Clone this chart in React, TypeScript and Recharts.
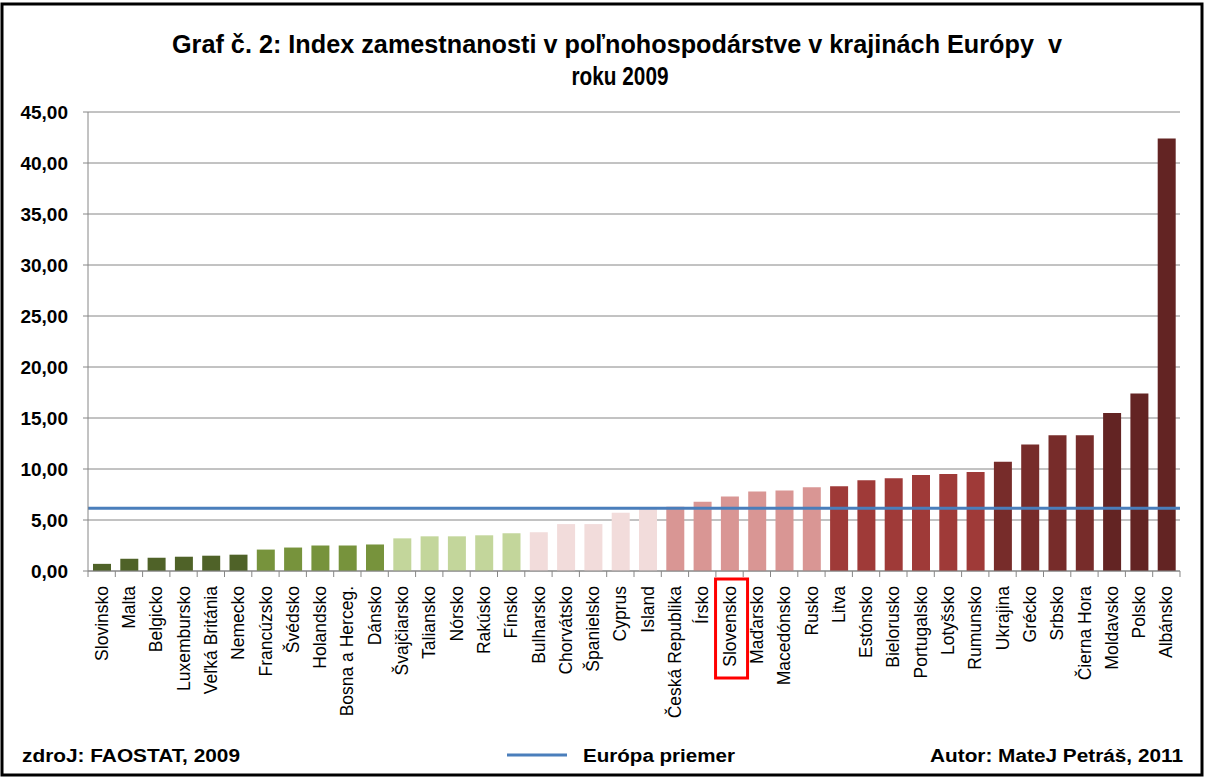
import { BarChart, Bar, XAxis, YAxis, CartesianGrid, Cell, ReferenceLine } from 'recharts';

const countries = [
  'Slovinsko', 'Malta', 'Belgicko', 'Luxembursko', 'Veľká Británia', 'Nemecko',
  'Francúzsko', 'Švédsko', 'Holandsko', 'Bosna a Herceg.', 'Dánsko',
  'Švajčiarsko', 'Taliansko', 'Nórsko', 'Rakúsko', 'Fínsko',
  'Bulharsko', 'Chorvátsko', 'Španielsko', 'Cyprus', 'Island',
  'Česká Republika', 'Írsko', 'Slovensko', 'Maďarsko', 'Macedónsko', 'Rusko',
  'Litva', 'Estónsko', 'Bielorusko', 'Portugalsko', 'Lotyšsko', 'Rumunsko',
  'Ukrajina', 'Grécko', 'Srbsko', 'Čierna Hora',
  'Moldavsko', 'Polsko', 'Albánsko',
];

const employmentIndex = [
  0.7, 1.2, 1.3, 1.4, 1.5, 1.6,
  2.1, 2.3, 2.5, 2.5, 2.6,
  3.2, 3.4, 3.4, 3.5, 3.7,
  3.8, 4.6, 4.6, 5.7, 6.1,
  6.3, 6.8, 7.3, 7.8, 7.9, 8.2,
  8.3, 8.9, 9.1, 9.4, 9.5, 9.7,
  10.7, 12.4, 13.3, 13.3,
  15.5, 17.4, 42.4,
];

const europeAverage = 6.15;
const yTicks = [0, 5, 10, 15, 20, 25, 30, 35, 40, 45];

// one shade per group of bars, left to right
const groupSizes = [6, 5, 5, 5, 6, 6, 4, 3];
const groupColors = ['#4F6228', '#77933C', '#C3D69B', '#F2DCDB', '#D99694', '#9F3A38', '#772C2A', '#632423'];
const barColors = groupSizes.flatMap((n, i) => Array(n).fill(groupColors[i]));

const data = countries.map((name, i) => ({ name, value: employmentIndex[i] }));

const W = 1205;
const H = 778;
const PLOT_LEFT = 88;
const PLOT_RIGHT = 1180;
const PLOT_TOP = 112;
const PLOT_BOTTOM = 571;
const BAND = (PLOT_RIGHT - PLOT_LEFT) / countries.length;
const GRID = '#868686';
const FONT = '"Liberation Sans", Arial, sans-serif';

function CountryTick(props: any) {
  const { x, y, payload, index } = props;
  const label = payload.value as string;
  const last = index === countries.length - 1;
  return (
    <g transform={`translate(${x},${y})`}>
      <line x1={-BAND / 2} y1={0} x2={-BAND / 2} y2={6} stroke={GRID} />
      {last && <line x1={BAND / 2} y1={0} x2={BAND / 2} y2={6} stroke={GRID} />}
      <text
        transform="rotate(-90)"
        x={-15}
        y={0}
        dy="0.35em"
        textAnchor="end"
        fontSize={17.5}
        fontFamily={FONT}
        fill="#000"
      >
        {label}
      </text>
      {label === 'Slovensko' && (
        <rect x={-14} y={8} width={32} height={99} fill="none" stroke="#FF0000" strokeWidth={3} />
      )}
    </g>
  );
}

export default function App() {
  return (
    <div style={{ position: 'fixed', left: 0, top: 0, width: W, height: H, background: '#fff' }}>
      <BarChart
        width={W}
        height={H}
        data={data}
        margin={{ top: PLOT_TOP, right: W - PLOT_RIGHT, left: 0, bottom: 0 }}
        barSize={18}
      >
        <CartesianGrid vertical={false} stroke={GRID} strokeWidth={1} />
        <XAxis
          dataKey="name"
          interval={0}
          height={H - PLOT_BOTTOM}
          tickLine={false}
          tickSize={0}
          tickMargin={0}
          axisLine={{ stroke: GRID }}
          tick={<CountryTick />}
        />
        <YAxis
          width={PLOT_LEFT}
          domain={[0, 45]}
          ticks={yTicks}
          interval={0}
          tickSize={5}
          tickMargin={15}
          tickLine={{ stroke: GRID }}
          axisLine={{ stroke: GRID }}
          tickFormatter={(v: number) => v.toFixed(2).replace('.', ',')}
          tick={{ fontSize: 19, fontWeight: 'bold', fill: '#000', fontFamily: FONT }}
        />
        <Bar dataKey="value" isAnimationActive={false}>
          {data.map((d, i) => (
            <Cell key={d.name} fill={barColors[i]} />
          ))}
        </Bar>
        <ReferenceLine y={europeAverage} stroke="#4A7EBB" strokeWidth={3} ifOverflow="extendDomain" />
      </BarChart>
      <svg width={W} height={H} style={{ position: 'absolute', left: 0, top: 0, pointerEvents: 'none' }}>
        <rect x={2} y={4} width={1200} height={771} fill="none" stroke="#000" strokeWidth={3} />
        <g fontFamily={FONT} fontWeight="bold" fill="#000">
          <text
            x={617}
            y={53}
            fontSize={26}
            textAnchor="middle"
            textLength={890}
            lengthAdjust="spacingAndGlyphs"
            xmlSpace="preserve"
            style={{ whiteSpace: 'pre' }}
          >
            {'Graf č. 2: Index zamestnanosti v poľnohospodárstve v krajinách Európy  v'}
          </text>
          <text x={620} y={85} fontSize={26} textAnchor="middle" textLength={97} lengthAdjust="spacingAndGlyphs">
            roku 2009
          </text>
          <text x={22} y={762} fontSize={18} textLength={218} lengthAdjust="spacingAndGlyphs">zdroJ: FAOSTAT, 2009</text>
          <line x1={507} y1={755} x2={567} y2={755} stroke="#4A7EBB" strokeWidth={3} />
          <text x={583} y={762} fontSize={18} textLength={152} lengthAdjust="spacingAndGlyphs">Európa priemer</text>
          <text x={1183} y={762} fontSize={18} textAnchor="end" textLength={253} lengthAdjust="spacingAndGlyphs">
            Autor: MateJ Petráš, 2011
          </text>
        </g>
      </svg>
    </div>
  );
}
